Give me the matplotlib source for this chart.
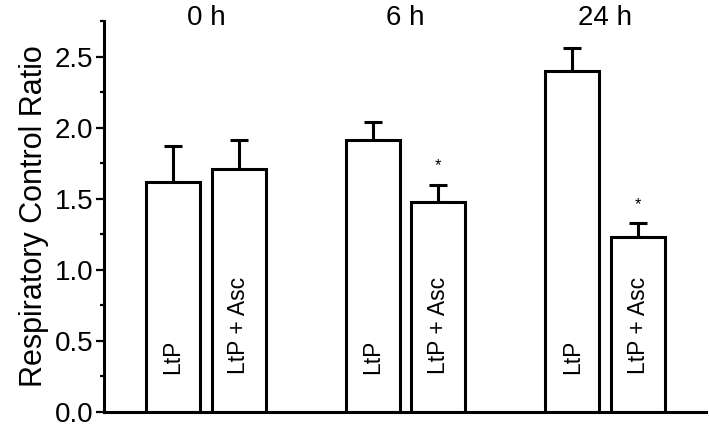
import numpy as np
from matplotlib import pyplot as plt
from matplotlib.ticker import MultipleLocator

groups = ["0 h", "6 h", "24 h"]
ltp = [1.62, 1.91, 2.40]
ltp_err = [0.25, 0.13, 0.16]
asc = [1.71, 1.48, 1.23]
asc_err = [0.20, 0.12, 0.10]
asc_sig = [False, True, True]
bar_labels = ["LtP", "LtP + Asc"]

plt.rcParams['font.family'] = ['Liberation Sans', 'DejaVu Sans']

fig = plt.figure(figsize=(7.09, 4.25), dpi=100)
ax = fig.add_axes([104/709, 13/425, 602/709, 391/425])

x = np.arange(len(groups))
w = 0.27
off = 0.165
lw = 2.2

ax.errorbar(x - off, ltp, yerr=[np.zeros(3), ltp_err], fmt='none', ecolor='black',
            elinewidth=lw, capsize=6.8, capthick=lw, zorder=1)
ax.errorbar(x + off, asc, yerr=[np.zeros(3), asc_err], fmt='none', ecolor='black',
            elinewidth=lw, capsize=6.8, capthick=lw, zorder=1)
ax.bar(x - off, ltp, width=w, color='white', edgecolor='black', linewidth=lw, zorder=2)
ax.bar(x + off, asc, width=w, color='white', edgecolor='black', linewidth=lw, zorder=2)

for i in range(len(groups)):
    ax.text(x[i] - off, 0.27, bar_labels[0], rotation=90, ha='center', va='bottom',
            fontsize=16.5, zorder=3)
    ax.text(x[i] + off, 0.27, bar_labels[1], rotation=90, ha='center', va='bottom',
            fontsize=16.5, zorder=3)
    if asc_sig[i]:
        ax.text(x[i] + off, asc[i] + asc_err[i] + 0.13, "*", ha='center', va='center',
                fontsize=12)
    ax.text(x[i], 0.99, groups[i], transform=ax.get_xaxis_transform(), ha='center',
            va='baseline', fontsize=20)

ax.set_xlim(-0.51, 2.505)
ax.set_ylim(0, 2.75)
ax.yaxis.set_major_locator(MultipleLocator(0.5))
ax.yaxis.set_minor_locator(MultipleLocator(0.25))
ax.yaxis.set_major_formatter(plt.FormatStrFormatter('%.1f'))
ax.tick_params(axis='y', which='major', length=5.5, width=1.6, labelsize=20, pad=2)
ax.tick_params(axis='y', which='minor', length=3, width=1.6)
ax.set_xticks([])
ax.spines['top'].set_visible(False)
ax.spines['right'].set_visible(False)
ax.spines['left'].set_linewidth(lw)
ax.spines['bottom'].set_linewidth(lw)
ax.set_ylabel("Respiratory Control Ratio", fontsize=22, labelpad=4)

plt.savefig('out.png', dpi=100)
